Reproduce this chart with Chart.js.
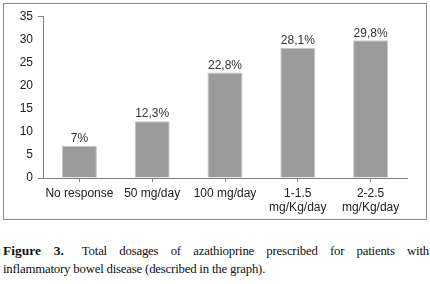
<!DOCTYPE html>
<html>
<head>
<meta charset="utf-8">
<script src="https://cdn.jsdelivr.net/npm/chart.js@4/dist/chart.umd.min.js"></script>
<style>
  html, body { margin: 0; padding: 0; background: #fff; }
  body { width: 430px; height: 284px; position: relative; overflow: hidden; }
  #box { position: absolute; left: 3px; top: 3px; width: 422px; height: 215px; border: 1px solid #8c8c8c; }
  #box canvas { display: block; }
  #caption {
    position: absolute; left: 3px; top: 242px; width: 426px;
    font-family: "Liberation Serif", "DejaVu Serif", serif; font-size: 12.8px; line-height: 18px;
    letter-spacing: -0.2px; color: #111;
  }
  #caption .l1 { text-align: justify; text-align-last: justify; white-space: nowrap; }
  #caption b { font-weight: bold; font-size: 13.5px; margin-right: 6px; letter-spacing: 0; }
</style>
</head>
<body>
<div id="box"><canvas id="chart" width="422" height="215"></canvas></div>
<div id="caption">
  <div class="l1"><b>Figure 3.</b> Total dosages of azathioprine prescribed for patients with</div>
  <div>inflammatory bowel disease (described in the graph).</div>
</div>
<script>
const categories = ['No response', '50 mg/day', '100 mg/day', ['1-1.5', 'mg/Kg/day'], ['2-2.5', 'mg/Kg/day']];
const percentages = [7, 12.3, 22.8, 28.1, 29.8];
const valueLabels = ['7%', '12,3%', '22,8%', '28,1%', '29,8%'];
const yTicks = [0, 5, 10, 15, 20, 25, 30, 35];

const FONT = '"Liberation Sans", Arial, sans-serif';
const AXIS = '#808080';

// draws the value text above each bar
const barLabels = {
  id: 'barLabels',
  afterDatasetsDraw(chart) {
    const ctx = chart.ctx;
    const meta = chart.getDatasetMeta(0);
    ctx.save();
    ctx.font = '12px ' + FONT;
    ctx.fillStyle = '#333';
    ctx.textAlign = 'center';
    ctx.textBaseline = 'bottom';
    meta.data.forEach((bar, i) => {
      ctx.fillText(valueLabels[i], bar.x, bar.y - 1);
    });
    ctx.restore();
  }
};

const ctx = document.getElementById('chart').getContext('2d');
new Chart(ctx, {
  type: 'bar',
  data: {
    labels: categories,
    datasets: [
      {
        data: percentages,
        backgroundColor: '#9b9b9b',
        borderColor: '#c4c4c4',
        borderWidth: 1,
        barPercentage: 0.48,
        categoryPercentage: 1,
      },
    ],
  },
  options: {
    responsive: false,
    animation: false,
    layout: { padding: { top: 9, right: 19, left: 0, bottom: 0 } },
    plugins: {
      legend: { display: false },
      tooltip: { enabled: false },
    },
    scales: {
      x: {
        grid: { offset: false, drawOnChartArea: false, drawTicks: true, tickLength: 4, color: AXIS },
        border: { display: true, color: AXIS },
        ticks: { font: { family: FONT, size: 12 }, color: '#222', padding: 4, maxRotation: 0, autoSkip: false },
        afterFit(scale) { scale.height = 41; },
      },
      y: {
        min: 0,
        max: 35,
        afterBuildTicks(scale) { scale.ticks = yTicks.map(v => ({ value: v })); },
        grid: {
          drawOnChartArea: false,
          drawTicks: true,
          tickLength: 5,
          color: (c) => (c.tick && (c.tick.value === 35 || c.tick.value === 0)) ? AXIS : 'rgba(0,0,0,0)',
        },
        border: { display: true, color: AXIS },
        ticks: { font: { family: FONT, size: 12 }, color: '#222', padding: 5 },
        afterFit(scale) { scale.width = 39; },
      },
    },
  },
  plugins: [barLabels],
});
</script>
</body>
</html>
